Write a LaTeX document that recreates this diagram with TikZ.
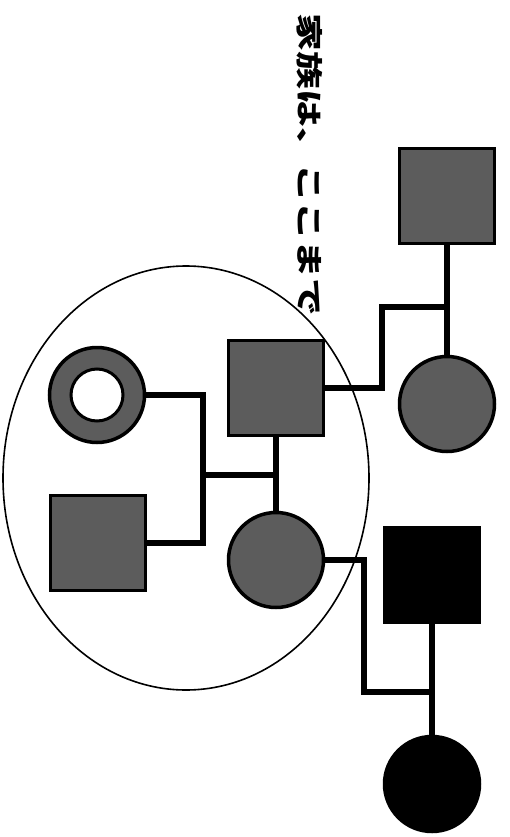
\documentclass[tikz,border=0pt]{standalone}
\usepackage{fontspec}
\newfontfamily\jp{Noto Sans CJK JP}
\definecolor{shade}{gray}{0.36}
\tikzset{
  x=1pt, y=-1pt,
  person/.style={draw=black, line width=3.5pt, inner sep=0pt, minimum size=95pt},
  sq/.style={person, rectangle},
  ci/.style={person, circle},
  shaded/.style={fill=shade},
  solid black/.style={fill=black},
  link/.style={line width=5.5pt, line join=miter},
  group/.style={draw=black, line width=1.6pt},
}
\begin{document}
\begin{tikzpicture}
\useasboundingbox (0,0) rectangle (509,837);
% family group ellipse
\draw[group] (186,478) ellipse [x radius=183, y radius=212];
% title
\node[rotate=-90, inner sep=0pt] (title) at (310,165)
  {\jp\bfseries\fontsize{27}{27}\selectfont\scalebox{1.4}[1]{家族は、ここまで}};
% persons
\node[sq, shaded] (gpf) at (447,196) {};
\node[ci, shaded] (gpm) at (447,404) {};
\node[sq, shaded] (father) at (276,388) {};
\node[ci, shaded] (ring) at (97,395) {};
\node[ci, fill=white, line width=3pt, minimum size=52pt] (ringin) at (ring.center) {};
\node[sq, shaded] (bsq) at (98,543) {};
\node[ci, shaded] (mother) at (276,560) {};
\node[sq, solid black] (bsqb) at (432,575) {};
\node[ci, solid black] (bcirc) at (432,784) {};
% junction coordinates
\coordinate (sib) at (203,475);
\coordinate (cpl) at (276,475);
\coordinate (a1) at (382,307);
\coordinate (a2) at (447,307);
\coordinate (b1) at (364,692);
\coordinate (b2) at (432,692);
% connectors
\draw[link] (ring.east) -| (sib) |- (bsq.east);
\draw[link] (sib) -- (cpl);
\draw[link] (father.south) -- (mother.north);
\draw[link] (father.east) -| (a1) -- (a2);
\draw[link] (gpf.south) -- (gpm.north);
\draw[link] (mother.east) -| (b1) -- (b2);
\draw[link] (bsqb.south) -- (bcirc.north);
\end{tikzpicture}
\end{document}
